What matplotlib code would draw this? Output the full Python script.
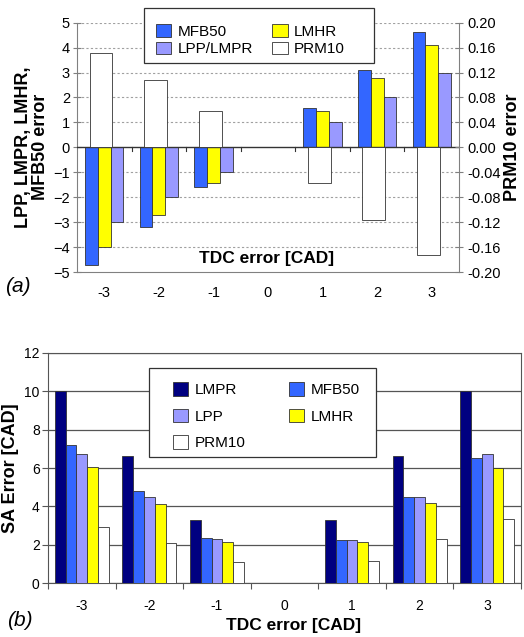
import matplotlib
matplotlib.use("Agg")
import matplotlib.pyplot as plt
import numpy as np
from matplotlib.patches import Patch, Rectangle
from matplotlib.ticker import FormatStrFormatter

plt.rcParams['font.family'] = ['Liberation Sans', 'DejaVu Sans']

tdc = [-3, -2, -1, 0, 1, 2, 3]

# Panel (a)
a_mfb50 = [-4.7, -3.2, -1.58, 0, 1.59, 3.1, 4.64]
a_lmhr = [-4.0, -2.7, -1.43, 0, 1.44, 2.77, 4.1]
a_lpp_lmpr = [-3.0, -2.0, -1.0, 0, 1.0, 2.0, 3.0]
a_prm10 = [0.151, 0.108, 0.058, 0, -0.057, -0.116, -0.172]

# Panel (b)
b_lmpr = [10.0, 6.64, 3.31, 0, 3.31, 6.64, 10.0]
b_mfb50 = [7.2, 4.79, 2.38, 0, 2.27, 4.47, 6.52]
b_lpp = [6.73, 4.47, 2.29, 0, 2.27, 4.47, 6.71]
b_lmhr = [6.03, 4.11, 2.13, 0, 2.13, 4.16, 5.98]
b_prm10 = [2.95, 2.12, 1.13, 0, 1.16, 2.29, 3.36]

C_NAVY = '#000080'
C_BLUE = '#3366FF'
C_PURP = '#9999FF'
C_YEL = '#FFFF00'
C_WHITE = '#FFFFFF'
EDGE = '#333333'

W, H = 524, 637
fig = plt.figure(figsize=(W/100, H/100), dpi=100)

def ax_rect(l, t, r, b):
    return [l/W, 1-b/H, (r-l)/W, (b-t)/H]

x = np.arange(len(tdc))

# ---------------- Panel (a) ----------------
ax = fig.add_axes(ax_rect(77, 22.7, 459, 272))
ax2 = ax.twinx()
bw = 0.233
ax.bar(x - bw, a_mfb50, bw, color=C_BLUE, edgecolor=EDGE, linewidth=0.6, zorder=3)
ax.bar(x, a_lmhr, bw, color=C_YEL, edgecolor=EDGE, linewidth=0.6, zorder=3)
ax.bar(x + bw, a_lpp_lmpr, bw, color=C_PURP, edgecolor=EDGE, linewidth=0.6, zorder=3)
ax2.bar(x - 0.06, a_prm10, 0.42, color=C_WHITE, edgecolor=EDGE, linewidth=0.6, zorder=3)

ax.set_xlim(-0.5, len(tdc) - 0.5)
ax.set_ylim(-5, 5)
ax2.set_ylim(-0.2, 0.2)
ax.set_yticks(np.arange(-5, 6, 1))
ax2.set_yticks(np.arange(-0.2, 0.21, 0.04))
ax2.yaxis.set_major_formatter(FormatStrFormatter('%.2f'))
for yv in range(-4, 6):
    if yv != 0:
        ax.axhline(yv, color='#a0a0a0', lw=0.8, ls=(0, (2, 2)), zorder=1)
ax.axhline(0, color='#333333', lw=1.0, zorder=4)

for a in (ax, ax2):
    a.spines['top'].set_visible(False)
    a.spines['left'].set_color('#808080')
    a.spines['right'].set_color('#808080')
    a.spines['bottom'].set_color('#808080')
ax.spines['right'].set_visible(False)
ax2.spines['left'].set_visible(False)
ax2.spines['bottom'].set_visible(False)

ax.set_xticks([])
for xb in np.arange(0.5, len(tdc) - 0.5):
    ax.plot([xb, xb], [0, -0.15], color='#333333', lw=0.8, zorder=4, clip_on=False)
for xi, lab in zip(x, tdc):
    ax.text(xi, -0.085, str(lab), transform=ax.get_xaxis_transform(),
            ha='center', va='center', fontsize=10.5)

ax.tick_params(axis='y', labelsize=10.5, direction='inout', length=6, color='#808080', pad=2)
ax2.tick_params(axis='y', labelsize=10.5, direction='inout', length=6, color='#808080', pad=3)

ax.text(0.497, 0.056, 'TDC error [CAD]', transform=ax.transAxes, ha='center', va='center',
        fontsize=12.5, fontweight='bold')
ax.set_ylabel('LPP, LMPR, LMHR,\nMFB50 error', fontsize=13, fontweight='bold', labelpad=3,
              linespacing=1.0)
ax2.set_ylabel('PRM10 error', fontsize=13, fontweight='bold', labelpad=2)

hA = [Patch(facecolor=C_BLUE, edgecolor=EDGE, lw=0.6, label='MFB50'),
      Patch(facecolor=C_PURP, edgecolor=EDGE, lw=0.6, label='LPP/LMPR'),
      Patch(facecolor=C_YEL, edgecolor=EDGE, lw=0.6, label='LMHR'),
      Patch(facecolor=C_WHITE, edgecolor=EDGE, lw=0.6, label='PRM10')]
frameA = Rectangle((0.1754, 0.8383), 0.602, 0.2206, transform=ax2.transAxes,
                   facecolor='white', edgecolor='#333333', lw=0.9, zorder=9, clip_on=False)
ax2.add_patch(frameA)
legA = ax2.legend(handles=hA, ncol=2, loc='upper left', bbox_to_anchor=(0.2068, 0.9932),
                  frameon=False, fontsize=11, handlelength=1.0, handleheight=0.85,
                  handletextpad=0.4, labelspacing=0.2, columnspacing=1.29,
                  borderpad=0, borderaxespad=0)
legA.set_zorder(10)

fig.text(5/W, 1-287/H, '(a)', fontsize=15, style='italic', ha='left', va='center')

# ---------------- Panel (b) ----------------
bx = fig.add_axes(ax_rect(48, 352.7, 521, 583.3))
bw2 = 0.16
series_b = [(b_lmpr, C_NAVY), (b_mfb50, C_BLUE), (b_lpp, C_PURP), (b_lmhr, C_YEL), (b_prm10, C_WHITE)]
for i, (vals, col) in enumerate(series_b):
    bx.bar(x + (i - 2) * bw2, vals, bw2, color=col, edgecolor=EDGE, linewidth=0.6, zorder=3)
bx.set_xlim(-0.5, len(tdc) - 0.5)
bx.set_ylim(0, 12)
bx.set_yticks(np.arange(0, 13, 2))
bx.yaxis.grid(True, color='#555555', lw=0.9, zorder=0)
bx.set_axisbelow(True)
for s in bx.spines.values():
    s.set_color('#555555')
bx.set_xticks(np.arange(-0.5, len(tdc)))
bx.set_xticklabels([])
bx.tick_params(axis='x', length=4, color='#555555')
for xi, lab in zip(x, tdc):
    bx.text(xi, -0.10, str(lab), transform=bx.get_xaxis_transform(),
            ha='center', va='center', fontsize=10)
bx.tick_params(axis='y', labelsize=10, length=4, color='#555555', pad=2)
bx.set_ylabel('SA Error [CAD]', fontsize=13, fontweight='bold', labelpad=4)
bx.text(0.52, -0.181, 'TDC error [CAD]', transform=bx.transAxes, ha='center', va='center',
        fontsize=12.5, fontweight='bold')

hB = [Patch(facecolor=C_NAVY, edgecolor=EDGE, lw=0.6, label='LMPR'),
      Patch(facecolor=C_PURP, edgecolor=EDGE, lw=0.6, label='LPP'),
      Patch(facecolor=C_WHITE, edgecolor=EDGE, lw=0.6, label='PRM10'),
      Patch(facecolor=C_BLUE, edgecolor=EDGE, lw=0.6, label='MFB50'),
      Patch(facecolor=C_YEL, edgecolor=EDGE, lw=0.6, label='LMHR')]
frameB = Rectangle((0.2135, 0.5477), 0.4799, 0.386, transform=bx.transAxes,
                   facecolor='white', edgecolor='#333333', lw=0.9, zorder=9, clip_on=False)
bx.add_patch(frameB)
legB = bx.legend(handles=hB, ncol=2, loc='upper left', bbox_to_anchor=(0.2643, 0.8712),
                 frameon=False, fontsize=11, handlelength=1.0, handleheight=1.0,
                 handletextpad=0.45, labelspacing=0.73, columnspacing=2.8,
                 borderpad=0, borderaxespad=0)
legB.set_zorder(10)

fig.text(7/W, 1-620/H, '(b)', fontsize=15, style='italic', ha='left', va='center')

fig.savefig('out.png', dpi=100)
